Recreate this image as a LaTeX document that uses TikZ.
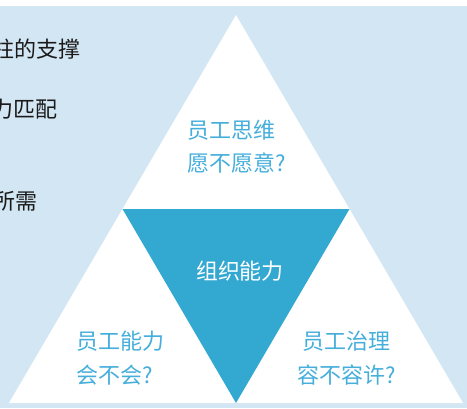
\documentclass[tikz,border=0pt]{standalone}
\usepackage{fontspec}
\usetikzlibrary{calc}
\newfontfamily\cjk{Noto Sans CJK SC}
\definecolor{bgblue}{HTML}{D3E6F3}
\definecolor{midblue}{HTML}{33A8D1}
\definecolor{txtblue}{HTML}{45AEDB}
\definecolor{darktxt}{HTML}{1A1A1A}
\begin{document}
\begin{tikzpicture}[x=1pt,y=-1pt,
  lbl/.style={inner sep=0pt,font=\cjk\fontsize{22}{22}\selectfont},
  bluelbl/.style={lbl,text=txtblue},
  darklbl/.style={lbl,text=darktxt,anchor=base east}]
\useasboundingbox (0,0) rectangle (467,408);
\fill[white] (0,0) rectangle (467,408);
\fill[bgblue] (0,6) rectangle (467,408);
\begin{scope}
\clip (0,0) rectangle (467,408);
\node[darklbl] (t1) at (81,57.5) {柱的支撑};
\node[darklbl] (t2) at (58,117.5) {力匹配};
\node[darklbl] (t3) at (38,209.5) {所需};
\end{scope}
\coordinate (A) at (236,15);
\coordinate (B) at (9,403);
\coordinate (C) at (463,403);
\fill[white] (A) -- (B) -- (C) -- cycle;
\coordinate (AB) at ($(A)!0.5!(B)$);
\coordinate (AC) at ($(A)!0.5!(C)$);
\coordinate (BC) at ($(B)!0.5!(C)$);
\fill[midblue] (AB) -- (AC) -- (BC) -- cycle;
\node[bluelbl,anchor=base west] (u1) at (187,138.5) {员工思维};
\node[bluelbl,anchor=base west] (u2) at (187,171.5) {愿不愿意?};
\node[lbl,text=white,anchor=base] (m) at (240,279.5) {组织能力};
\node[bluelbl,anchor=base west] (l1) at (76,349.5) {员工能力};
\node[bluelbl,anchor=base west] (l2) at (76,383.5) {会不会?};
\node[bluelbl,anchor=base] (r1) at (346.5,349.5) {员工治理};
\node[bluelbl,anchor=base] (r2) at (346.5,383.5) {容不容许?};
\end{tikzpicture}
\end{document}
